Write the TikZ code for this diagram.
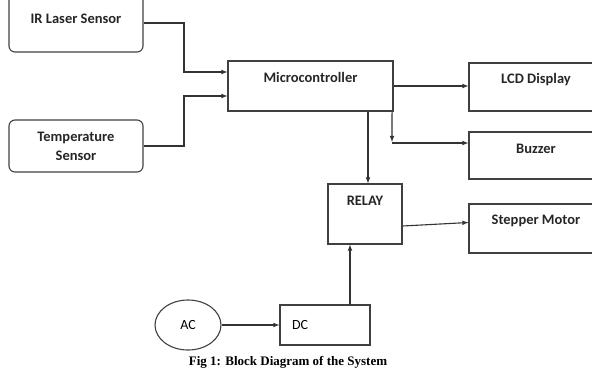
\documentclass[tikz,border=0pt]{standalone}
\usepackage{fontspec}
\setmainfont{Carlito}
\newfontfamily\capfont{Liberation Serif}
\usetikzlibrary{shapes.geometric}

\begin{document}
\begin{tikzpicture}[x=1pt, y=-1pt,
  block/.style = {draw=black!75, line width=1.1pt, inner sep=0pt},
  sensor/.style = {block, rounded corners=6pt, minimum width=134pt, align=center, font=\bfseries\fontsize{14.5}{19}\selectfont, text=black!85},
  title/.style = {font=\bfseries\fontsize{14.5}{16}\selectfont, text=black!85},
  toptext/.style = {label={[title, anchor=center, yshift=-17pt]north:#1}},
  arr/.style = {draw=black!80, line width=1.1pt, -latex}]
  \useasboundingbox (0,0) rectangle (592,368);
  \clip (0,0) rectangle (592,368);

  % Sensors on the left
  \node[sensor, minimum height=66pt] (ir) at (76,19) {IR Laser Sensor};
  \node[sensor, minimum height=52pt] (temp) at (76,146) {Temperature\\Sensor};

  % Controller and outputs
  \node[block, minimum width=165pt, minimum height=50pt, toptext=Microcontroller] (mc) at (310.5,86) {};
  \node[block, minimum width=134pt, minimum height=48pt, toptext=LCD Display] (lcd) at (536,87) {};
  \node[block, minimum width=134pt, minimum height=47pt, toptext=Buzzer] (buzzer) at (536,155.5) {};
  \node[block, minimum width=74pt, minimum height=60pt, toptext=RELAY] (relay) at (365,214) {};
  \node[block, minimum width=134pt, minimum height=49pt, toptext=Stepper Motor] (motor) at (536,228.5) {};

  % Supply
  \node[block, ellipse, minimum width=66pt, minimum height=50pt, font=\fontsize{14}{16}\selectfont] (ac) at (188,325) {AC\hspace{10pt}};
  \node[block, minimum width=90pt, minimum height=40pt, inner xsep=12pt, text width=66pt, align=left, font=\fontsize{14}{16}\selectfont] (dc) at (325,325) {DC};

  % Helper points
  \coordinate (bz) at (392,142);          % Corner of buzzer line
  \coordinate (dcup) at (350,305);        % Top of DC output

  % Connectors
  \draw[arr] ([yshift=-4pt]ir.east) -| (184,50) |- ([yshift=14pt]mc.west);
  \draw[arr] (temp.east) -| (184,120) |- ([yshift=-10pt]mc.west);
  \draw[arr] (mc.east) -- (mc.east -| lcd.west);
  \draw[arr] ([xshift=-1.5pt]mc.south east) -- (bz);
  \draw[arr] ([yshift=-1pt]bz) -- ([yshift=-1pt]bz -| buzzer.west);
  \draw[arr] (mc.south -| 368,0) -- (relay.north -| 368,0);
  \draw[arr] ([yshift=-12pt]relay.east) -- ([yshift=6pt]motor.west);
  \draw[arr] (ac.east) -- (dc.west);
  \draw[arr] (dcup) -- (dcup |- relay.south);

  % Caption
  \node[font=\capfont\bfseries\fontsize{13}{15}\selectfont] (cap) at (288,362) {Fig 1: Block Diagram of the System};
\end{tikzpicture}
\end{document}
